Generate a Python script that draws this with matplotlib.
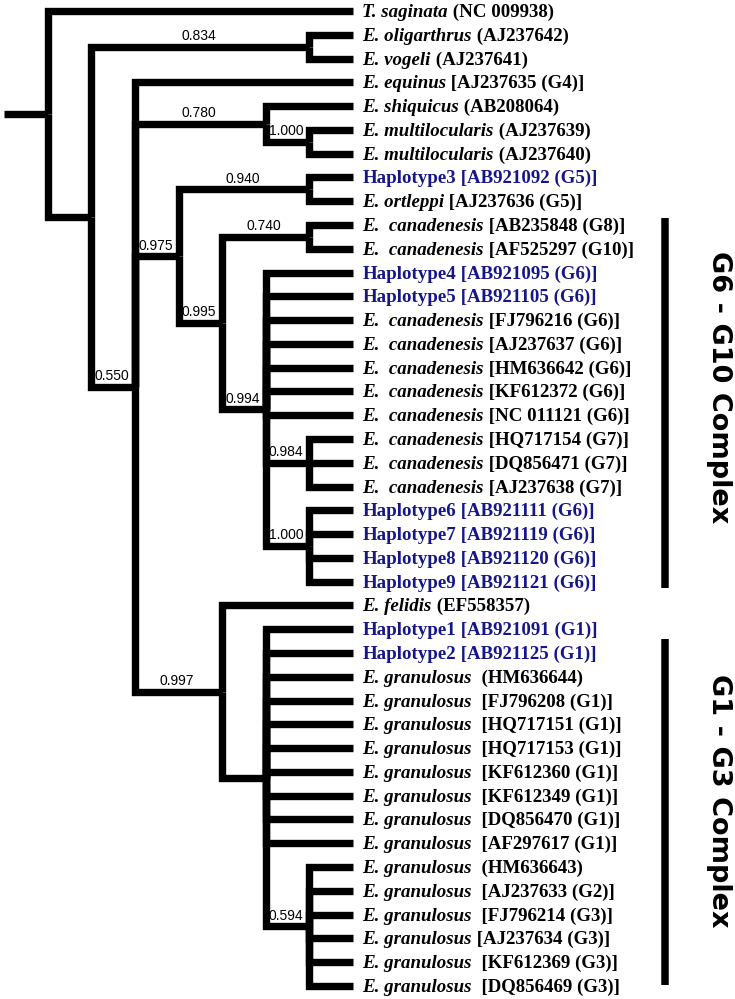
#!/usr/bin/env python
# -*- coding: utf-8 -*-

"""
Cladogram of Echinococcus cox1 haplotypes with posterior support values,
G6-G10 and G1-G3 complexes marked on the right
"""

import matplotlib
matplotlib.use('Agg')
import matplotlib.pyplot as plt
from matplotlib import font_manager


#==============================================================================
# leaves, top to bottom

leaf_species = ['T. saginata', 'E. oligarthrus', 'E. vogeli', 'E. equinus',
				'E. shiquicus', 'E. multilocularis', 'E. multilocularis',
				'Haplotype3', 'E. ortleppi',
				'E.  canadenesis', 'E.  canadenesis',
				'Haplotype4', 'Haplotype5',
				'E.  canadenesis', 'E.  canadenesis', 'E.  canadenesis',
				'E.  canadenesis', 'E.  canadenesis', 'E.  canadenesis',
				'E.  canadenesis', 'E.  canadenesis',
				'Haplotype6', 'Haplotype7', 'Haplotype8', 'Haplotype9',
				'E. felidis', 'Haplotype1', 'Haplotype2'] + \
			   ['E. granulosus'] * 14

leaf_acc = [' (NC 009938)', ' (AJ237642)', ' (AJ237641)', ' [AJ237635 (G4)]',
			' (AB208064)', ' (AJ237639)', ' (AJ237640)',
			' [AB921092 (G5)]', ' [AJ237636 (G5)]',
			' [AB235848 (G8)]', ' [AF525297 (G10)]',
			' [AB921095 (G6)]', ' [AB921105 (G6)]',
			' [FJ796216 (G6)]', ' [AJ237637 (G6)]', ' [HM636642 (G6)]',
			' [KF612372 (G6)]', ' [NC 011121 (G6)]', ' [HQ717154 (G7)]',
			' [DQ856471 (G7)]', ' [AJ237638 (G7)]',
			' [AB921111 (G6)]', ' [AB921119 (G6)]', ' [AB921120 (G6)]',
			' [AB921121 (G6)]',
			' (EF558357)', ' [AB921091 (G1)]', ' [AB921125 (G1)]',
			'  (HM636644)', '  [FJ796208 (G1)]', '  [HQ717151 (G1)]',
			'  [HQ717153 (G1)]', '  [KF612360 (G1)]', '  [KF612349 (G1)]',
			'  [DQ856470 (G1)]', '  [AF297617 (G1)]', '  (HM636643)',
			'  [AJ237633 (G2)]', '  [FJ796214 (G3)]', ' [AJ237634 (G3)]',
			'  [KF612369 (G3)]', '  [DQ856469 (G3)]']

# internal nodes: depth level, children (leaf index or node name), support
node_names = ['root', 'A', 'oli', 'B', 'C', 'mul', 'D', 'h3', 'F', 'can',
			  'G', 'H', 'I', 'E', 'J', 'K']
node_level = [0, 1, 6, 2, 5, 6, 3, 6, 4, 6, 5, 6, 6, 4, 5, 6]
node_children = [[0, 'A'], ['oli', 'B'], [1, 2], [3, 'C', 'D', 'E'],
				 [4, 'mul'], [5, 6], ['h3', 'F'], [7, 8], ['can', 'G'],
				 [9, 10], [11, 12, 13, 14, 15, 16, 17, 'H', 'I'],
				 [18, 19, 20], [21, 22, 23, 24], [25, 'J'],
				 [26, 27, 28, 29, 30, 31, 32, 33, 34, 35, 'K'],
				 [36, 37, 38, 39, 40, 41]]
node_support = [None, None, '0.834', '0.550', '0.780', '1.000', '0.975',
				'0.940', '0.995', '0.740', '0.994', '0.984', '1.000',
				'0.997', None, '0.594']

tip_level = 7

# complexes: bar extent (leaf units) and label centre
group_labels = ['G6 - G10 Complex', 'G1 - G3 Complex']
group_start = [8.7, 26.4]
group_end = [24.25, 40.95]
group_text_y = [15.8, 33.2]


#==============================================================================

def pick_font(names):

	"""
	Returns the first installed family of names
	"""

	installed = set(f.name for f in font_manager.fontManager.ttflist)
	for n in names:
		if n in installed:
			return n

	return 'DejaVu Sans'


def main():

	nodes = {n: (lev, ch, sup) for n, lev, ch, sup in
			 zip(node_names, node_level, node_children, node_support)}
	ypos = {}

	def node_y(key):
		if not isinstance(key, str):
			return float(key)
		if key not in ypos:
			ch = nodes[key][1]
			ypos[key] = 0.5 * (node_y(ch[0]) + node_y(ch[-1]))
		return ypos[key]

	def node_x(key):
		return tip_level if not isinstance(key, str) else nodes[key][0]

	fig = plt.figure(figsize=(7.35, 9.99), dpi=100)
	fig.patch.set_facecolor('white')
	ax = fig.add_axes([0, 0, 1, 1])
	ax.set_xlim(-1.103, 15.79)
	ax.set_ylim(41.55, -0.463)
	ax.axis('off')

	serif = pick_font(['Liberation Serif', 'DejaVu Serif'])
	narrow = pick_font(['Liberation Sans Narrow', 'Arial Narrow'])
	sup_size = 11
	if narrow == 'DejaVu Sans':
		narrow, sup_size = pick_font(['Liberation Sans']), 10
	lw = 5.3

	# root stub
	ax.plot([-1, 0], [node_y('root')] * 2, color='k', lw=lw,
			solid_capstyle='butt')

	for n in node_names:
		lev, ch, sup = nodes[n]
		py = node_y(n)
		for c in ch:
			cy = node_y(c)
			ax.plot([lev, lev, node_x(c)], [py, cy, cy], color='k', lw=lw,
					solid_capstyle='butt', solid_joinstyle='miter')

	# support values sit above the branch leading to the node
	for n in node_names:
		lev, ch, sup = nodes[n]
		if sup is None:
			continue
		parent = [p for p in node_names if n in nodes[p][1]][0]
		xm = 0.5 * (nodes[parent][0] + lev)
		ax.annotate(sup, xy=(xm, node_y(n)), xytext=(-1, 4.8),
					textcoords='offset points', ha='center', va='baseline',
					fontsize=sup_size, family=narrow, color='k')

	# leaf labels
	for i in range(len(leaf_species)):
		hap = leaf_species[i].startswith('Haplotype')
		col = '#16168a' if hap else 'black'
		t = ax.annotate(leaf_species[i], xy=(tip_level, i), xytext=(7, -4.3),
						textcoords='offset points', ha='left', va='baseline',
						fontsize=13.6, family=serif, fontweight='bold',
						fontstyle='normal' if hap else 'italic', color=col)
		ax.annotate(leaf_acc[i], xy=(1, 0), xycoords=t, ha='left',
					va='bottom', fontsize=13.6, family=serif,
					fontweight='bold', color=col)

	# complexes
	for lab, y0, y1, yt in zip(group_labels, group_start, group_end,
							   group_text_y):
		ax.plot([14.18, 14.18], [y0, y1], color='k', lw=5.4,
				solid_capstyle='butt')
		ax.text(15.27, yt, lab, rotation=270, rotation_mode='anchor',
				ha='center', va='baseline', fontsize=19.5,
				fontweight='bold', family='DejaVu Sans')

	fig.savefig('out.png', dpi=100, facecolor='white')


if __name__ == "__main__":

	main()
